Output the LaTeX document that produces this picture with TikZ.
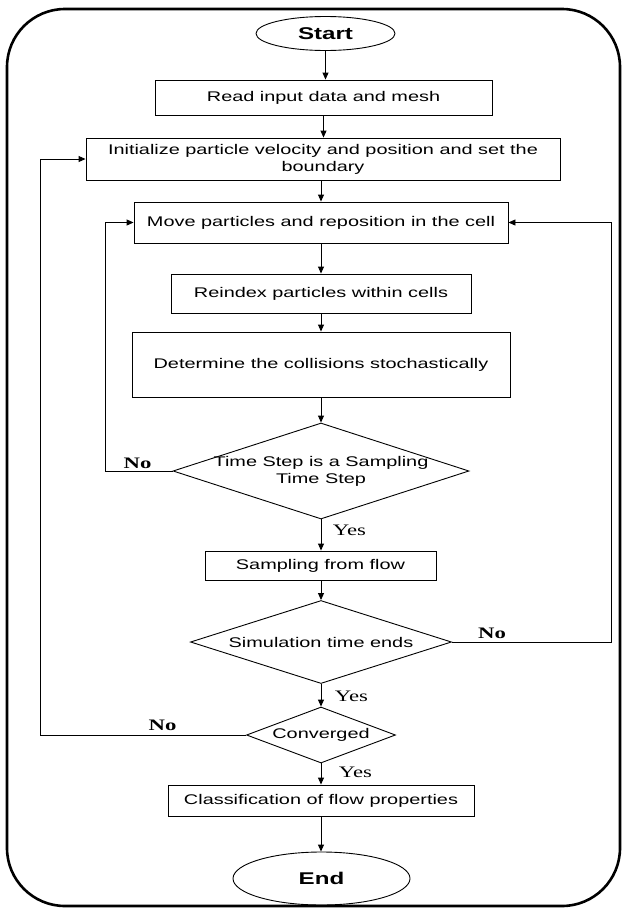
\documentclass[tikz,border=0pt]{standalone}
\usepackage{fontspec}
\setmainfont{Liberation Sans}[FakeStretch=1.42]
\newfontfamily\ynfont{Liberation Serif}[FakeStretch=1.42]
\usetikzlibrary{shapes.geometric,arrows.meta}
\begin{document}
\begin{tikzpicture}[x=1pt,y=-1pt,line width=0.9pt,
  font=\fontsize{14}{17}\selectfont,
  box/.style={draw,rectangle,inner sep=0pt,align=center},
  term/.style={draw,ellipse,inner sep=0pt,font=\bfseries\fontsize{17}{20}\selectfont},
  dec/.style={draw,diamond,inner sep=0pt},
  dtext/.style={align=center,inner sep=0pt},
  lab/.style={font=\ynfont\fontsize{16}{18}\selectfont,anchor=base,inner sep=0pt},
  labb/.style={font=\ynfont\bfseries\fontsize{16}{18}\selectfont,anchor=base,inner sep=0pt},
  flow/.style={-{Triangle[length=7pt,width=6pt]}},
  frame/.style={line width=2.6pt,rounded corners=58pt}]
\useasboundingbox (0,0) rectangle (623,908);
\draw[frame] (7,9) rectangle (620,906);

\node[term,minimum width=139pt,minimum height=34pt] (start) at (325.5,33.5) {Start};
\node[box,minimum width=337pt,minimum height=35pt] (read) at (323.5,97.5) {Read input data and mesh};
\node[box,minimum width=474pt,minimum height=42pt] (init) at (323,159) {Initialize particle velocity and position and set the\\boundary};
\node[box,minimum width=374pt,minimum height=41pt] (move) at (321,222.5) {Move particles and reposition in the cell};
\node[box,minimum width=300pt,minimum height=39pt] (reindex) at (321,293.5) {Reindex particles within cells};
\node[box,minimum width=378pt,minimum height=65pt] (determine) at (321,364.5) {Determine the collisions stochastically};
\node[dec,minimum width=296pt,minimum height=96pt] (d1) at (321,471) {};
\node[dtext] (d1t) at (d1.center) {Time Step is a Sampling\\Time Step};
\node[box,minimum width=231pt,minimum height=29pt] (sampling) at (320.5,565.5) {Sampling from flow};
\node[dec,minimum width=261pt,minimum height=83pt] (d2) at (321,642) {};
\node[dtext] (d2t) at (d2.center) {Simulation time ends};
\node[dec,minimum width=149pt,minimum height=56pt] (d3) at (321,735) {};
\node[dtext] (d3t) at (d3.center) {Converged};
\node[box,minimum width=306pt,minimum height=31pt] (class) at (321,800.5) {Classification of flow properties};
\node[term,minimum width=177pt,minimum height=53pt] (end) at (321.5,878.5) {End};

\draw[flow] (start.south) -- (start.south |- read.north);
\draw[flow] (read.south) -- (read.south |- init.north);
\draw[flow] (init.south -| move.north) -- (move.north);
\draw[flow] (move.south) -- (reindex.north);
\draw[flow] (reindex.south) -- (determine.north);
\draw[flow] (determine.south) -- (d1.north);
\draw[flow] (d1.south) -- (sampling.north -| d1.south);
\draw[flow] (sampling.south -| d2.north) -- (d2.north);
\draw[flow] (d2.south) -- (d3.north);
\draw[flow] (d3.south) -- (class.north -| d3.south);
\draw[flow] (class.south) -- (end.north -| class.south);

\coordinate (l1) at (105,471);
\coordinate (r1) at (611,642);
\coordinate (l2) at (40,735);
\draw[flow] (d1.west) -- (l1) |- (move.west);
\draw[flow] (d2.east) -- (r1) |- (move.east);
\draw[flow] (d3.west) -- (l2) |- (init.west);

\node[labb] (no1) at (137.5,468.5) {No};
\node[lab] (yes1) at (349.5,535) {Yes};
\node[labb] (no2) at (492,638.5) {No};
\node[lab] (yes2) at (351.5,701.5) {Yes};
\node[labb] (no3) at (162.5,730.5) {No};
\node[lab] (yes3) at (355.5,777.5) {Yes};
\end{tikzpicture}
\end{document}
